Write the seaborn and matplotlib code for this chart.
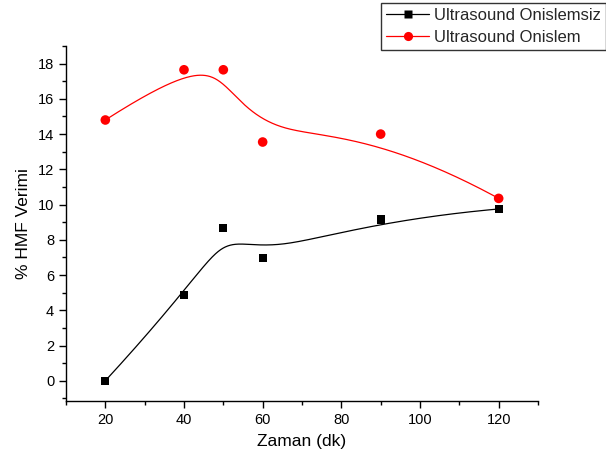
import numpy as np
import pandas as pd
import matplotlib
matplotlib.use("Agg")
import matplotlib.pyplot as plt
from matplotlib.lines import Line2D
from matplotlib.ticker import MultipleLocator
import seaborn as sns

# Measured yields (% HMF) versus time (min)
zaman = [20, 40, 50, 60, 90, 120]
onislemsiz = [0.0, 4.85, 8.65, 6.95, 9.15, 9.75]
onislem = [14.8, 17.65, 17.65, 13.55, 14.0, 10.35]
seri_adlari = ["Ultrasound Onislemsiz", "Ultrasound Onislem"]
renkler = ["black", "#ff0000"]
isaretler = ["s", "o"]


def bspline(px, py, n=400, k=3):
    """Clamped cubic B-spline using the data points as control points."""
    px = np.asarray(px, float)
    py = np.asarray(py, float)
    m = len(px)
    knots = np.concatenate([np.zeros(k), np.linspace(0, 1, m - k + 1), np.ones(k)])
    t = np.linspace(0, 1, n)
    t[-1] -= 1e-10
    # degree-0 basis
    B = np.zeros((n, len(knots) - 1))
    for i in range(len(knots) - 1):
        B[:, i] = (t >= knots[i]) & (t < knots[i + 1])
    for d in range(1, k + 1):
        Bn = np.zeros((n, len(knots) - 1 - d))
        for i in range(len(knots) - 1 - d):
            den1 = knots[i + d] - knots[i]
            den2 = knots[i + d + 1] - knots[i + 1]
            a = (t - knots[i]) / den1 * B[:, i] if den1 > 0 else 0
            b = (knots[i + d + 1] - t) / den2 * B[:, i + 1] if den2 > 0 else 0
            Bn[:, i] = a + b
        B = Bn
    return B @ px, B @ py


sns.set_style("ticks")
plt.rcParams["font.family"] = ["Liberation Sans", "DejaVu Sans"]

fig = plt.figure(figsize=(6.06, 4.59), dpi=100)
ax = fig.add_axes([66 / 606, 1 - 401 / 459, (538 - 66) / 606, (401 - 46) / 459])

handles = []
for ad, ys, renk, isaret in zip(seri_adlari, [onislemsiz, onislem], renkler, isaretler):
    cx, cy = bspline(zaman, ys)
    egri = pd.DataFrame({"x": cx, "y": cy})
    sns.lineplot(data=egri, x="x", y="y", ax=ax, color=renk, linewidth=0.9,
                 sort=False, estimator=None)
    nokta = pd.DataFrame({"x": zaman, "y": ys})
    sns.scatterplot(data=nokta, x="x", y="y", ax=ax, color=renk, marker=isaret,
                    s=34 if isaret == "s" else 48, edgecolor="none", zorder=3)
    handles.append(Line2D([], [], color=renk, marker=isaret,
                          markersize=5.6 if isaret == "s" else 6.6,
                          markeredgecolor="none", linewidth=0.9, label=ad))

ax.set_xlim(10, 130)
ax.set_ylim(-1.15, 19)
ax.xaxis.set_major_locator(MultipleLocator(20))
ax.xaxis.set_minor_locator(MultipleLocator(10))
ax.yaxis.set_major_locator(MultipleLocator(2))
ax.yaxis.set_minor_locator(MultipleLocator(1))
ax.set_xticks([20, 40, 60, 80, 100, 120])
ax.tick_params(which="major", direction="out", length=5, width=1, labelsize=10.5,
               color="black", labelcolor="black")
ax.tick_params(which="minor", direction="out", length=3, width=1, color="black")
for s in ["top", "right"]:
    ax.spines[s].set_visible(False)
for s in ["left", "bottom"]:
    ax.spines[s].set_linewidth(1.0)
    ax.spines[s].set_color("black")

ax.set_xlabel("Zaman (dk)", fontsize=12.5, color="black", labelpad=5)
ax.set_ylabel("% HMF Verimi", fontsize=12.5, color="black", labelpad=5)

leg = fig.legend(handles=handles, loc="upper left",
                 bbox_to_anchor=(381 / 606, 1 - 3 / 459),
                 bbox_transform=fig.transFigure, fontsize=12, frameon=True,
                 fancybox=False, edgecolor="black", handlelength=2.6,
                 handletextpad=0.3, borderpad=0.3, labelspacing=0.4,
                 borderaxespad=0)
leg.get_frame().set_linewidth(1.0)

fig.savefig("out.png", dpi=100)
